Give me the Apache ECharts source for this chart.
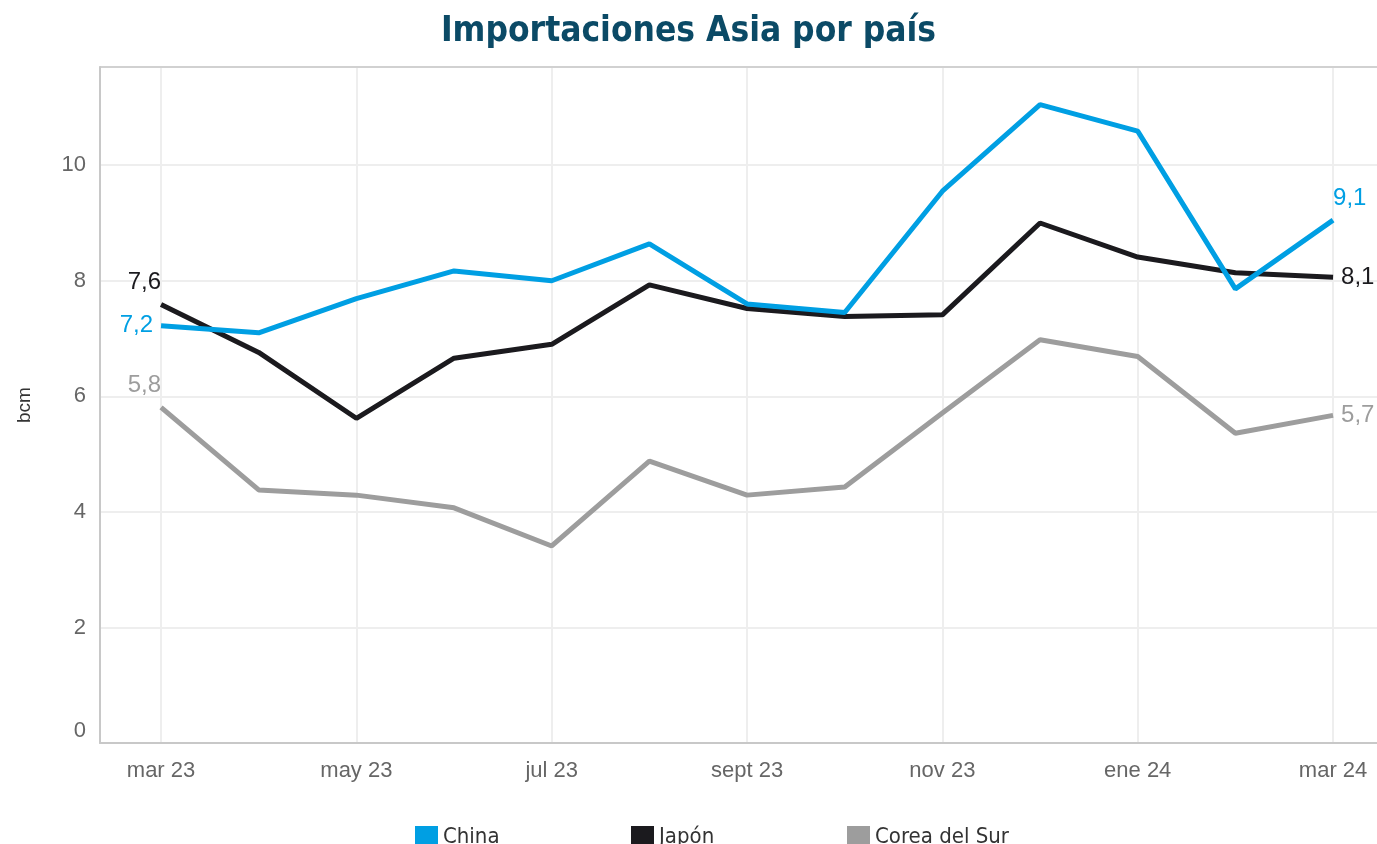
<!DOCTYPE html>
<html>
<head>
<meta charset="utf-8">
<script src="https://cdn.jsdelivr.net/npm/echarts@6/dist/echarts.min.js"></script>
<style>
  html, body { margin: 0; padding: 0; background: #fff; }
  #chart { width: 1377px; height: 844px; }
</style>
</head>
<body>
<div id="chart"></div>
<script>
const months = ['mar 23', 'abr 23', 'may 23', 'jun 23', 'jul 23', 'ago 23', 'sept 23',
  'oct 23', 'nov 23', 'dic 23', 'ene 24', 'feb 24', 'mar 24'];
const china = [7.22, 7.10, 7.69, 8.17, 8.00, 8.64, 7.60, 7.45, 9.55, 11.05, 10.59, 7.86, 9.05];
const japon = [7.59, 6.76, 5.62, 6.66, 6.90, 7.93, 7.52, 7.38, 7.41, 9.00, 8.41, 8.14, 8.06];
const corea = [5.81, 4.38, 4.29, 4.07, 3.41, 4.88, 4.29, 4.43, 5.71, 6.98, 6.69, 5.36, 5.67];
const tickMonths = [0, 2, 4, 6, 8, 10, 12];
const seriesNames = ['China', 'Japón', 'Corea del Sur'];
const legendLeft = [410, 626, 842];

const fmtNum = v => v.toFixed(1).replace('.', ',');
const font = '"Liberation Sans", Arial, sans-serif';
const narrow = '"Liberation Sans Narrow", "DejaVu Sans Condensed", "Liberation Sans", sans-serif';
const xMin = -0.625, xMax = 12.45;

const makeSeries = (name, values, color, firstPos, lastPos) => ({
  name: name,
  type: 'line',
  symbol: 'circle',
  symbolSize: 0,
  color: color,
  lineStyle: { width: 5, color: color },
  emphasis: { disabled: true },
  data: values.map((v, i) => {
    const item = { value: [i, v] };
    const pos = i === 0 ? firstPos : (i === values.length - 1 ? lastPos : null);
    if (pos) {
      item.label = Object.assign({
        show: true,
        color: color,
        fontSize: 24,
        fontFamily: font,
        formatter: p => fmtNum(p.value[1])
      }, pos);
    }
    return item;
  })
});

const chart = echarts.init(document.getElementById('chart'));
chart.setOption({
  animation: false,
  backgroundColor: '#fff',
  title: {
    text: 'Importaciones Asia por país',
    left: 'center',
    top: 9,
    textStyle: { fontFamily: narrow, fontWeight: 'bold', fontSize: 35, color: '#0b4a66' }
  },
  legend: seriesNames.map((n, i) => ({
    left: legendLeft[i],
    top: 821,
    icon: 'rect',
    itemWidth: 23,
    itemHeight: 23,
    itemGap: 10,
    textStyle: { fontFamily: narrow, fontSize: 22, color: '#333' },
    data: [n]
  })),
  grid: { left: 100, top: 67, right: 0, bottom: 101 },
  xAxis: [{
    type: 'value',
    min: xMin,
    max: xMax,
    axisLine: { show: true, onZero: false, lineStyle: { color: '#c8c8c8', width: 2 } },
    axisTick: { show: false, customValues: tickMonths },
    axisLabel: {
      customValues: tickMonths,
      margin: 17,
      fontSize: 22,
      fontFamily: font,
      color: '#666',
      formatter: v => months[Math.round(v)] || ''
    },
    splitLine: { show: true, lineStyle: { color: '#eeeeee', width: 2 } }
  }, {
    type: 'value',
    position: 'top',
    min: xMin,
    max: xMax,
    axisLine: { show: true, onZero: false, lineStyle: { color: '#c8c8c8', width: 1.5 } },
    axisTick: { show: false },
    axisLabel: { show: false },
    splitLine: { show: false }
  }],
  yAxis: {
    type: 'value',
    min: 0,
    max: 11.7,
    interval: 2,
    name: 'bcm',
    nameLocation: 'middle',
    nameGap: 66,
    nameTextStyle: { fontFamily: font, fontSize: 19, color: '#333' },
    axisLine: { show: true, onZero: false, lineStyle: { color: '#c8c8c8', width: 2 } },
    axisTick: { show: false },
    axisLabel: {
      margin: 14,
      fontSize: 22,
      fontFamily: font,
      color: '#666',
      showMaxLabel: false,
      formatter: v => v === 0 ? '{z|0}' : (v % 2 === 0 ? String(v) : ''),
      rich: { z: { fontSize: 22, fontFamily: font, color: '#666', padding: [0, 0, 24, 0] } }
    },
    splitLine: { show: true, lineStyle: { color: '#eeeeee', width: 2 } }
  },
  series: [
    makeSeries('Corea del Sur', corea, '#9d9d9d',
      { position: 'top', align: 'right', distance: 10 },
      { position: 'right', distance: 8 }),
    makeSeries('Japón', japon, '#1b1a1e',
      { position: 'top', align: 'right', distance: 10 },
      { position: 'right', distance: 8 }),
    makeSeries('China', china, '#009fe3',
      { position: 'left', distance: 8 },
      { position: 'top', align: 'left', distance: 10 })
  ]
});
</script>
</body>
</html>
